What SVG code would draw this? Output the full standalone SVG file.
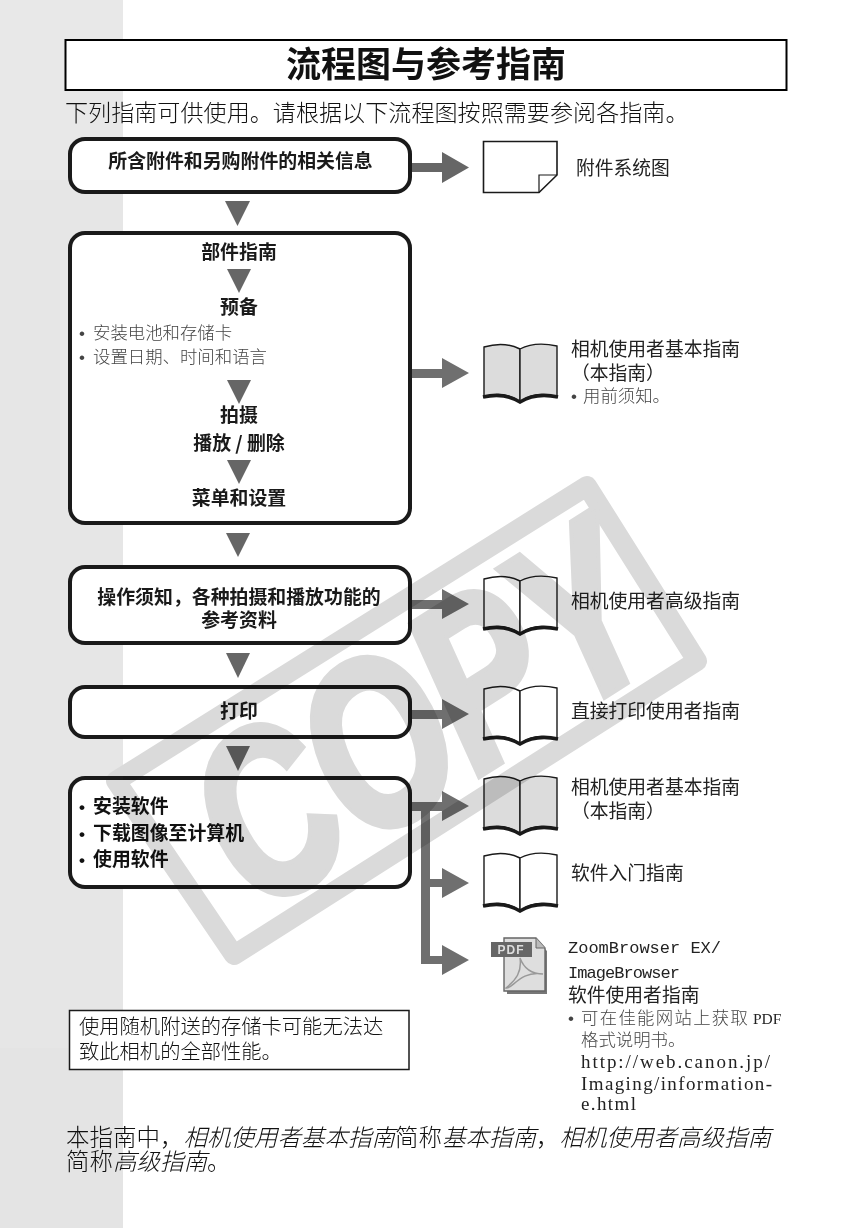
<svg xmlns="http://www.w3.org/2000/svg" xmlns:xlink="http://www.w3.org/1999/xlink" width="868" height="1228" viewBox="0 0 868 1228">
<style>
text{font-family:"Noto Sans CJK SC","Liberation Sans",sans-serif;fill:#111}
.b{font-weight:700;font-size:18.9px;text-anchor:middle;fill:#1a1a1a}
.bl{font-weight:700;font-size:18.9px}
.s{font-size:17.4px;fill:#444;font-weight:300}
.r{font-size:18.8px;fill:#222}
.d{font-family:"Liberation Sans",sans-serif;font-size:17px}
.box{fill:#fff;stroke:#1a1a1a;stroke-width:4}
.arrow{fill:#6f6f6f}
.tri{fill:#666}
.page{stroke:#1a1a1a;stroke-width:1.4}
.mono{font-family:"Liberation Mono",monospace;font-size:17px;fill:#222}
.serif{font-family:"Liberation Serif",serif;font-size:19px;fill:#222}
.wm{mix-blend-mode:multiply}
.frame{fill:none;stroke:#dadada;stroke-width:20;stroke-linejoin:round}
</style>
<defs>
<g id="book">
<path class="page" d="M484 347Q504 341 520 349L520 402Q504 390 484 397Z"/>
<path class="page" d="M557 346Q535 341 520 349L520 402Q535 390 557 397Z"/>
<path d="M483 397Q504 392 520 402Q536 392 558 397" fill="none" stroke="#1a1a1a" stroke-width="3.600"/>
</g>
<clipPath id="page-part"><rect x="123" y="0" width="745" height="1228"/></clipPath>
<clipPath id="band-part"><rect x="0" y="0" width="123" height="1228"/></clipPath>
</defs>
<rect width="868" height="1228" fill="#fff"/>
<g id="margin-band">
<rect x="0" y="0" width="123" height="1228" fill="#e6e6e6"/>
<rect x="0" y="0" width="123" height="180" fill="#e8e8e8"/>
<rect x="0" y="1048" width="123" height="180" fill="#e4e4e4"/>
</g>
<g id="title">
<rect x="65.500" y="40" width="721" height="50" fill="#fff" stroke="#000" stroke-width="2"/>
<text x="426" y="77" text-anchor="middle" font-size="35" font-weight="700" fill="#000">流程图与参考指南</text>
</g>
<text id="intro" x="65" y="121" font-size="23.100" font-weight="300" fill="#222">下列指南可供使用。请根据以下流程图按照需要参阅各指南。</text>

<g id="connectors">
<path class="arrow" d="M411 163H442V152L469 167.500L442 183V172H411Z" style="fill:#666"/>
<path class="arrow" d="M411 369H442V358L469 373L442 388V378H411Z"/>
<path class="arrow" d="M411 600H442V589L469 604L442 619V609H411Z"/>
<path class="arrow" d="M411 710H442V699L469 714L442 729V719H411Z"/>
<path class="arrow" d="M411 802H442V791L469 806L442 821V811H430V879H442V868L469 883L442 898V887H430V956H442V945L469 960L442 975V964H421V811H411Z"/>
<path class="tri" d="M225 201H250L237.500 226Z"/>
<path class="tri" d="M226 533H250L238 557Z"/>
<path class="tri" d="M226 653H250L238 678Z"/>
<path class="tri" d="M226 746H250L238 771Z"/>
</g>

<g id="node-accessories">
<rect class="box" x="70" y="139" width="340" height="53" rx="15"/>
<text class="b" x="240.500" y="168">所含附件和另购附件的相关信息</text>
</g>
<g id="node-basic">
<rect class="box" x="70" y="233" width="340" height="290" rx="15"/>
<text class="b" x="239" y="259">部件指南</text>
<path class="tri" d="M227 269H251L239 293Z"/>
<text class="b" x="239" y="314">预备</text>
<text class="s" x="79" y="339"><tspan class="d">•</tspan><tspan x="93">安装电池和存储卡</tspan></text>
<text class="s" x="79" y="363"><tspan class="d">•</tspan><tspan x="93">设置日期、时间和语言</tspan></text>
<path class="tri" d="M227 380H251L239 404Z"/>
<text class="b" x="239" y="422">拍摄</text>
<text class="b" x="239" y="450">播放 / 删除</text>
<path class="tri" d="M227 460H251L239 484Z"/>
<text class="b" x="239" y="505">菜单和设置</text>
</g>
<g id="node-advanced">
<rect class="box" x="70" y="567" width="340" height="76" rx="15"/>
<text class="b" x="239" y="604">操作须知，各种拍摄和播放功能的</text>
<text class="b" x="239" y="627">参考资料</text>
</g>
<g id="node-print">
<rect class="box" x="70" y="687" width="340" height="50" rx="15"/>
<text class="b" x="239" y="718">打印</text>
</g>
<g id="node-software">
<rect class="box" x="70" y="778" width="340" height="109" rx="15"/>
<text class="bl" x="79" y="813"><tspan class="d">•</tspan><tspan x="93">安装软件</tspan></text>
<text class="bl" x="79" y="840"><tspan class="d">•</tspan><tspan x="93">下载图像至计算机</tspan></text>
<text class="bl" x="79" y="866"><tspan class="d">•</tspan><tspan x="93">使用软件</tspan></text>
</g>

<g id="doc-system">
<path d="M483.500 141.500H557V175L539 192.500H483.500Z" fill="#fff" stroke="#1a1a1a" stroke-width="1.600"/>
<path d="M539 192.500V175H557" fill="none" stroke="#1a1a1a" stroke-width="1.200"/>
<text class="r" x="576" y="175">附件系统图</text>
</g>
<g id="doc-basic">
<use xlink:href="#book" href="#book" fill="#dcdcdc"/>
<text class="r" x="571" y="356">相机使用者基本指南</text>
<text class="r" x="571" y="380">（本指南）</text>
<text class="s" x="571" y="402"><tspan class="d">•</tspan><tspan x="583">用前须知。</tspan></text>
</g>
<g id="doc-advanced">
<use xlink:href="#book" href="#book" y="232" fill="#fff"/>
<text class="r" x="571" y="608">相机使用者高级指南</text>
</g>
<g id="doc-print">
<use xlink:href="#book" href="#book" y="342" fill="#fff"/>
<text class="r" x="571" y="718">直接打印使用者指南</text>
</g>
<g id="doc-basic-2">
<use xlink:href="#book" href="#book" y="432" fill="#dcdcdc"/>
<text class="r" x="571" y="794">相机使用者基本指南</text>
<text class="r" x="571" y="818">（本指南）</text>
</g>
<g id="doc-start">
<use xlink:href="#book" href="#book" y="509" fill="#fff"/>
<text class="r" x="571" y="880">软件入门指南</text>
</g>
<g id="doc-pdf">
<path d="M507 941H537L547 951V994H507Z" fill="#777"/>
<path d="M504 938H536L545 948V991H504Z" fill="#dedede" stroke="#666" stroke-width="1.400"/>
<path d="M536 938V948H545" fill="#bbb" stroke="#666" stroke-width="1"/>
<rect x="491" y="942" width="41" height="15" fill="#666"/>
<text x="511" y="954" text-anchor="middle" style="font-family:'Liberation Sans',sans-serif;font-size:12px;font-weight:700;letter-spacing:1px;fill:#ddd">PDF</text>
<path d="M520 958C522 972 516 980 506 988C512 990 520 970 543 974C530 974 523 966 520 958Z" fill="none" stroke="#999" stroke-width="1.500"/>
<text class="mono" x="568" y="953">ZoomBrowser EX/</text>
<text class="mono" x="568" y="978" textLength="112">ImageBrowser</text>
<text class="r" x="568" y="1002">软件使用者指南</text>
<text class="s" x="568" y="1024"><tspan class="d">•</tspan><tspan x="581" style="letter-spacing:1.300px">可在佳能网站上获取</tspan><tspan x="753" style="font-family:'Liberation Serif',serif;font-size:15.500px;fill:#222">PDF</tspan></text>
<text class="s" x="581" y="1046">格式说明书。</text>
<text class="serif" x="581" y="1068" textLength="189">http://web.canon.jp/</text>
<text class="serif" x="581" y="1090" textLength="191">Imaging/information-</text>
<text class="serif" x="581" y="1110" textLength="55">e.html</text>
</g>
<g id="note">
<rect x="69.500" y="1010.500" width="339.500" height="59" fill="#fff" stroke="#1a1a1a" stroke-width="1.500"/>
<text x="79" y="1034" font-size="20.300" font-weight="300" fill="#333">使用随机附送的存储卡可能无法达<tspan x="79" dy="25">致此相机的全部性能。</tspan></text>
</g>
<text id="footnote" x="66" y="1146" font-size="23.500" font-weight="300">本指南中，<tspan font-style="italic">相机使用者基本指南</tspan>简称<tspan font-style="italic">基本指南</tspan>，<tspan font-style="italic">相机使用者高级指南</tspan><tspan x="66" dy="24">简称</tspan><tspan font-style="italic">高级指南</tspan>。</text>
<g id="watermark">
<g class="wm" clip-path="url(#page-part)">
<path class="frame" d="M116 781L587 486L697 661L234 955Z"/>
<text transform="rotate(-32.400 410 720)" x="422" y="803" text-anchor="middle" textLength="490" lengthAdjust="spacingAndGlyphs" style="font-family:'Liberation Sans',sans-serif;font-weight:700;font-style:italic;font-size:235px;fill:#dadada;stroke:#dadada;stroke-width:9;paint-order:stroke">COPY</text>
</g>
<g style="mix-blend-mode:darken" clip-path="url(#band-part)">
<path class="frame" d="M116 781L587 486L697 661L234 955Z"/>
</g>
</g>
</svg>
